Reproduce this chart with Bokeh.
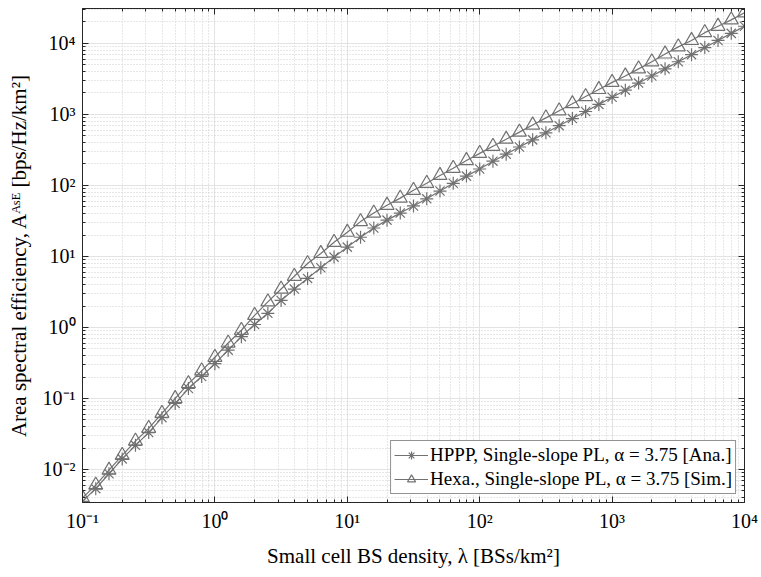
from bokeh.plotting import figure
from bokeh.models import (FixedTicker, LogAxis, CustomJSTickFormatter, Range1d, Legend, LegendItem)
from bokeh.embed import file_html
from bokeh.resources import INLINE

# Small cell BS density (BSs/km^2)
density = [0.1, 0.1259, 0.1585, 0.1995, 0.2512, 0.3162, 0.3981, 0.5012, 0.631, 0.7943,
           1, 1.259, 1.585, 1.995, 2.512, 3.162, 3.981, 5.012, 6.31, 7.943,
           10, 12.59, 15.85, 19.95, 25.12, 31.62, 39.81, 50.12, 63.1, 79.43,
           100, 125.9, 158.5, 199.5, 251.2, 316.2, 398.1, 501.2, 631, 794.3,
           1000, 1259, 1585, 1995, 2512, 3162, 3981, 5012, 6310, 7943, 10000]

# HPPP, single-slope PL, alpha = 3.75 [Ana.]
ase_hppp = [0.00355, 0.00537, 0.00871, 0.0141, 0.0219, 0.0331, 0.0537, 0.0851, 0.138, 0.204,
            0.309, 0.479, 0.741, 1.10, 1.58, 2.40, 3.47, 4.90, 6.92, 9.77,
            13.5, 18.6, 25.1, 32.4, 40.7, 51.3, 64.6, 83.2, 107, 135,
            170, 219, 275, 347, 437, 550, 692, 871, 1096, 1380,
            1738, 2188, 2754, 3467, 4365, 5495, 6918, 8710, 10965, 13800, 17378]

# Hexagonal, single-slope PL, alpha = 3.75 [Sim.]
ase_hexa = [0.00398, 0.00603, 0.00977, 0.0158, 0.0251, 0.0380, 0.0617, 0.100, 0.162, 0.245,
            0.380, 0.603, 0.912, 1.48, 2.29, 3.47, 5.25, 7.94, 11.0, 15.8,
            21.9, 30.9, 40.7, 52.5, 66.1, 85.1, 107, 138, 174, 224,
            282, 355, 447, 562, 708, 891, 1122, 1413, 1778, 2239,
            2818, 3467, 4365, 5495, 7079, 8913, 10965, 14125, 17378, 21380, 26915]

x_ticks = [0.1, 1, 10, 100, 1000, 10000]
y_ticks = [0.01, 0.1, 1, 10, 100, 1000, 10000]

label_hppp = "HPPP, Single-slope PL, α = 3.75 [Ana.]"
label_hexa = "Hexa., Single-slope PL, α = 3.75 [Sim.]"

FONT = "Liberation Serif"
AX = "#262626"
GRAY = "#717171"

def minors(decades):
    out = []
    for d in decades:
        for m in range(2, 10):
            out.append(d * m)
    return out

x_minor = minors([0.01, 0.1, 1, 10, 100, 1000])
y_minor = minors([0.001, 0.01, 0.1, 1, 10, 100, 1000, 10000])

sup_fmt = CustomJSTickFormatter(code="""
const sup = {'-':'\u207b','0':'\u2070','1':'\u00b9','2':'\u00b2','3':'\u00b3','4':'\u2074',
             '5':'\u2075','6':'\u2076','7':'\u2077','8':'\u2078','9':'\u2079'};
const e = Math.round(Math.log10(tick));
return '10' + String(e).split('').map(c => sup[c]).join('');
""")
blank_fmt = CustomJSTickFormatter(code="return '';")

p = figure(width=760, height=576, x_axis_type="log", y_axis_type="log",
           x_range=Range1d(0.1, 10000), y_range=Range1d(0.00343, 30900),
           output_backend="svg", toolbar_location=None,
           min_border_left=82, min_border_right=16, min_border_top=8, min_border_bottom=74)

p.background_fill_color = "white"
p.border_fill_color = "white"
p.outline_line_color = AX
p.outline_line_width = 1

xt = FixedTicker(ticks=x_ticks, minor_ticks=x_minor)
yt = FixedTicker(ticks=y_ticks, minor_ticks=y_minor)

for ax in p.xaxis:
    ax.ticker = xt
for ax in p.yaxis:
    ax.ticker = yt

def style_axis(ax, show_labels):
    ax.axis_line_color = AX
    ax.major_tick_line_color = AX
    ax.minor_tick_line_color = AX
    ax.major_tick_in = 6
    ax.major_tick_out = 0
    ax.minor_tick_in = 3
    ax.minor_tick_out = 0
    ax.major_label_text_font = FONT
    ax.major_label_text_font_size = "20px"
    ax.major_label_text_color = "black"
    ax.axis_label_text_font = FONT
    ax.axis_label_text_font_size = "21px"
    ax.axis_label_text_font_style = "normal"
    ax.axis_label_text_color = "black"
    if show_labels:
        ax.formatter = sup_fmt
    else:
        ax.formatter = blank_fmt
        ax.major_label_text_font_size = "0px"

for ax in p.xaxis:
    style_axis(ax, True)
    ax.axis_label = "Small cell BS density, λ [BSs/km²]"
    ax.major_label_standoff = 7
    ax.axis_label_standoff = 9
for ax in p.yaxis:
    style_axis(ax, True)
    ax.axis_label = "Area spectral efficiency, Aᴬˢᴱ [bps/Hz/km²]"
    ax.major_label_standoff = 7
    ax.axis_label_standoff = 9

right_ax = LogAxis(ticker=yt)
style_axis(right_ax, False)
p.add_layout(right_ax, "right")
top_ax = LogAxis(ticker=xt)
style_axis(top_ax, False)
p.add_layout(top_ax, "above")

for g in (p.xgrid[0], p.ygrid[0]):
    g.grid_line_color = "#e3e3e3"
    g.grid_line_width = 1
    g.minor_grid_line_color = "#cfcfcf"
    g.minor_grid_line_dash = "1 2"
    g.minor_grid_line_width = 1
p.xgrid[0].ticker = xt
p.ygrid[0].ticker = yt

l1 = p.line(density, ase_hppp, line_color=GRAY, line_width=1.2)
s1 = p.scatter(density, ase_hppp, marker="asterisk", size=13, line_color=GRAY,
               line_width=1.2, fill_color=None)
l2 = p.line(density, ase_hexa, line_color=GRAY, line_width=1.2)
s2 = p.scatter(density, ase_hexa, marker="triangle", size=14, line_color=GRAY,
               line_width=1.2, fill_color=None)

legend = Legend(items=[LegendItem(label=label_hppp, renderers=[l1, s1]),
                       LegendItem(label=label_hexa, renderers=[l2, s2])],
                location="bottom_right")
legend.border_line_color = AX
legend.border_line_width = 1
legend.background_fill_color = "white"
legend.background_fill_alpha = 1
legend.label_text_font = FONT
legend.label_text_font_size = "19px"
legend.label_text_color = "black"
legend.glyph_width = 34
legend.glyph_height = 20
legend.label_height = 20
legend.label_standoff = 2
legend.spacing = 2
legend.padding = 3
legend.margin = 8
p.add_layout(legend)

open("out.html", "w").write(file_html(p, INLINE))
